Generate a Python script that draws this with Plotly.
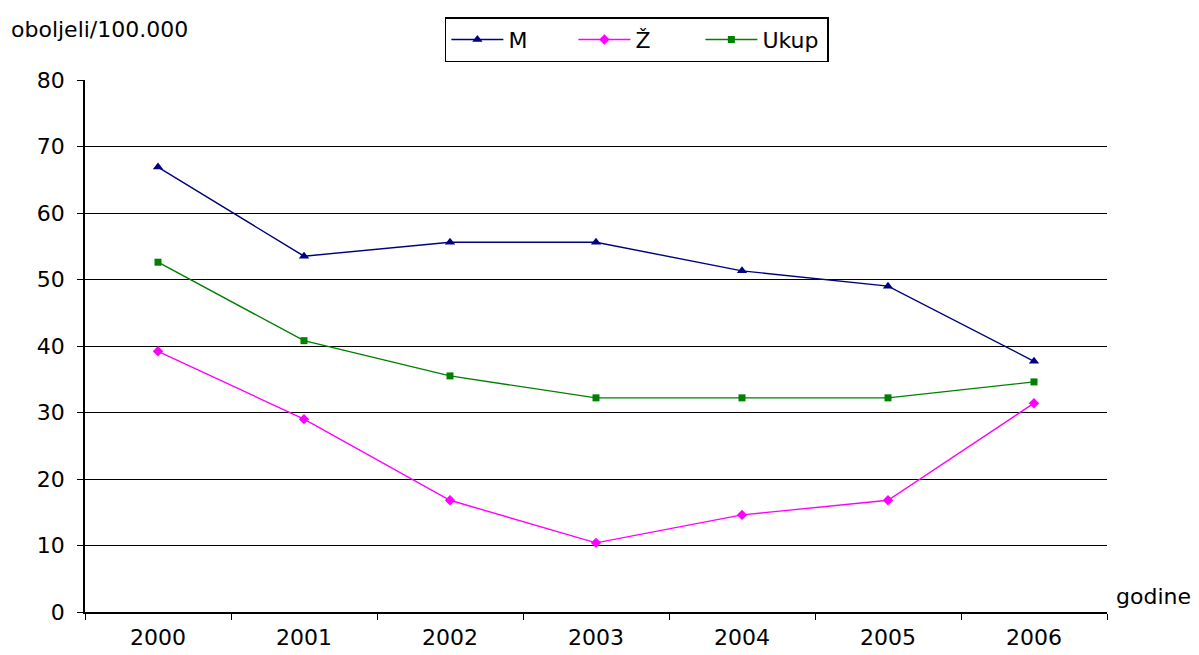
import plotly.graph_objects as go

years = ["2000", "2001", "2002", "2003", "2004", "2005", "2006"]
m_vals = [66.9, 53.5, 55.6, 55.6, 51.3, 49.0, 37.7]
z_vals = [39.2, 29.0, 16.8, 10.4, 14.6, 16.8, 31.4]
ukup_vals = [52.6, 40.8, 35.5, 32.2, 32.2, 32.2, 34.6]
y_ticks = [0, 10, 20, 30, 40, 50, 60, 70, 80]

font = "DejaVu Sans, Verdana, sans-serif"
fs = 22

fig = go.Figure()
fig.add_trace(go.Scatter(x=years, y=m_vals, name="M", mode="lines+markers",
                         line=dict(color="#000080", width=1.4),
                         marker=dict(symbol="triangle-up", size=9, color="#000080")))
fig.add_trace(go.Scatter(x=years, y=z_vals, name="Ž", mode="lines+markers",
                         line=dict(color="#FF00FF", width=1.4),
                         marker=dict(symbol="diamond", size=8, color="#FF00FF")))
fig.add_trace(go.Scatter(x=years, y=ukup_vals, name="Ukup", mode="lines+markers",
                         line=dict(color="#008000", width=1.4),
                         marker=dict(symbol="square", size=7, color="#008000")))

fig.update_layout(
    width=1199, height=655,
    margin=dict(l=77, r=100, t=72, b=51, autoexpand=False),
    paper_bgcolor="white", plot_bgcolor="white",
    font=dict(family=font, size=fs, color="black"),
    showlegend=True,
    legend=dict(orientation="h", x=0.54, xanchor="center", y=1.118, yanchor="top",
                bordercolor="black", borderwidth=1.5, bgcolor="white",
                font=dict(size=fs), entrywidth=60, entrywidthmode="pixels",
                itemwidth=52),
    xaxis=dict(type="category", tickson="boundaries", ticks="outside", ticklen=6,
               tickcolor="black", showline=True, linecolor="black", linewidth=1.5,
               showgrid=False, range=[-0.5, 6.5], tickfont=dict(size=fs),
               ticklabelstandoff=5),
    yaxis=dict(range=[0, 80], tickvals=y_ticks, ticks="outside", ticklen=6,
               tickcolor="black", showline=True, linecolor="black", linewidth=1.5,
               showgrid=True, gridcolor="black", gridwidth=1.4, zeroline=False,
               tickfont=dict(size=fs), ticklabelstandoff=8),
    annotations=[
        dict(text="oboljeli/100.000", xref="paper", yref="paper", x=-0.074, y=1.095,
             xanchor="left", yanchor="middle", showarrow=False, font=dict(size=fs)),
        dict(text="godine", xref="paper", yref="paper", x=1.007, y=0.03,
             xanchor="left", yanchor="middle", showarrow=False, font=dict(size=fs)),
    ],
)

fig.write_html("out.html")
